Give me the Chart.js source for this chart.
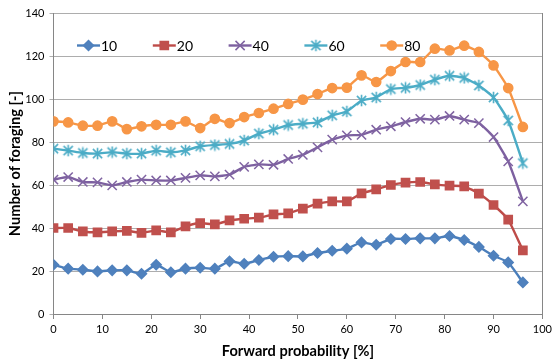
<!DOCTYPE html>
<html>
<head>
<meta charset="utf-8">
<script src="https://cdn.jsdelivr.net/npm/chart.js@4/dist/chart.umd.min.js"></script>
<style>
  html, body { margin: 0; padding: 0; background: #ffffff; }
  #wrap { width: 556px; height: 360px; }
</style>
</head>
<body>
<div id="wrap"><canvas id="c" width="556" height="360"></canvas></div>
<script>
// Forward probability (%) at which each run was measured
const forwardProb = [0, 3, 6, 9, 12, 15, 18, 21, 24, 27, 30, 33, 36, 39, 42, 45, 48,
                     51, 54, 57, 60, 63, 66, 69, 72, 75, 78, 81, 84, 87, 90, 93, 96];

const seriesNames = ['10', '20', '40', '60', '80'];

const foraging10 = [22.9, 21.1, 20.6, 19.8, 20.3, 20.3, 18.7, 22.9, 19.4, 21.1, 21.5, 21.1, 24.5, 23.4, 25.1, 26.6, 26.9,
                    26.8, 28.4, 29.4, 30.4, 33.3, 32.2, 34.9, 34.9, 35.2, 35.2, 36.3, 34.4, 31.2, 27.1, 24.0, 14.7];
const foraging20 = [40.0, 40.0, 38.4, 38.0, 38.4, 38.7, 37.7, 38.9, 38.0, 40.8, 42.3, 41.7, 43.5, 44.3, 44.8, 46.3, 46.8,
                    49.0, 51.3, 52.4, 52.4, 56.1, 58.0, 60.0, 61.1, 61.4, 60.3, 59.7, 59.4, 56.0, 50.7, 43.9, 29.6];
const foraging40 = [62.5, 63.7, 61.4, 61.2, 59.8, 61.4, 62.5, 62.1, 62.1, 63.3, 64.5, 64.0, 64.8, 68.4, 69.6, 69.4, 72.1,
                    74.0, 77.5, 81.1, 83.1, 83.3, 85.7, 87.3, 89.3, 90.8, 90.4, 92.1, 90.4, 88.8, 82.3, 71.0, 52.4];
const foraging60 = [76.9, 76.0, 74.9, 74.6, 75.3, 74.6, 74.6, 76.0, 75.2, 76.1, 78.0, 78.6, 79.1, 80.7, 83.9, 85.7, 87.9,
                    88.5, 89.1, 92.4, 94.2, 99.3, 100.7, 104.6, 105.2, 106.5, 109.0, 110.8, 109.8, 106.3, 100.7, 90.0, 70.2];
const foraging80 = [89.6, 89.1, 87.6, 87.6, 89.6, 86.0, 87.3, 88.0, 88.0, 89.6, 86.5, 90.8, 88.8, 91.6, 93.5, 95.5, 97.7,
                    99.7, 102.3, 105.1, 105.3, 111.0, 107.9, 113.0, 117.2, 117.2, 123.4, 122.6, 124.8, 121.9, 115.6, 105.1, 87.0];

const yTicks = [0, 20, 40, 60, 80, 100, 120, 140];
const xTicks = [0, 10, 20, 30, 40, 50, 60, 70, 80, 90, 100];

// Asterisk marker: an X with a vertical stroke
function asteriskMarker(color) {
  const s = 13, c = document.createElement('canvas');
  c.width = s; c.height = s;
  const g = c.getContext('2d');
  g.strokeStyle = color; g.lineWidth = 1.6; g.lineCap = 'butt';
  const m = s / 2, r = 4.6;
  g.beginPath();
  g.moveTo(m - r, m - r); g.lineTo(m + r, m + r);
  g.moveTo(m + r, m - r); g.lineTo(m - r, m + r);
  g.moveTo(m, m - 5.8); g.lineTo(m, m + 5.8);
  g.stroke();
  return c;
}

const styles = [
  { line: '#4A7EBB', fill: '#4F81BD', point: 'rectRot', radius: 5 },
  { line: '#BE4B48', fill: '#C0504D', point: 'rect', radius: 5.8 },
  { line: '#7D60A0', fill: '#8064A2', point: 'crossRot', radius: 6.5 },
  { line: '#4BACC6', fill: '#4BACC6', point: asteriskMarker('#4BACC6'), radius: 6 },
  { line: '#F79646', fill: '#F79646', point: 'circle', radius: 4.6 }
];

const seriesValues = [foraging10, foraging20, foraging40, foraging60, foraging80];

const datasets = seriesValues.map((vals, i) => ({
  label: seriesNames[i],
  data: vals.map((v, k) => ({ x: forwardProb[k], y: v })),
  borderColor: styles[i].line,
  backgroundColor: styles[i].fill,
  pointBorderColor: styles[i].fill,
  pointBackgroundColor: styles[i].fill,
  pointStyle: styles[i].point,
  pointRadius: styles[i].radius,
  pointBorderWidth: 1.5,
  borderWidth: 2.4,
  tension: 0.15,
  fill: false
}));

// Legend row drawn inside the plot area, plus the right-hand frame line
const innerLegend = {
  id: 'innerLegend',
  afterDraw(chart) {
    const ctx = chart.ctx, area = chart.chartArea;
    ctx.save();
    ctx.strokeStyle = '#868686';
    ctx.lineWidth = 1;
    ctx.beginPath();
    ctx.moveTo(Math.round(area.right) + 0.5, area.top);
    ctx.lineTo(Math.round(area.right) + 0.5, area.bottom);
    ctx.stroke();

    const y = 45.5;
    chart.data.datasets.forEach((ds, i) => {
      const x0 = area.left + 23.5 + i * 75.8;
      ctx.strokeStyle = ds.borderColor;
      ctx.lineWidth = 2.4;
      ctx.beginPath();
      ctx.moveTo(x0, y); ctx.lineTo(x0 + 23, y);
      ctx.stroke();
      ctx.fillStyle = ds.pointBackgroundColor;
      ctx.strokeStyle = ds.pointBorderColor;
      ctx.lineWidth = 1.5;
      Chart.helpers.drawPoint(ctx, { pointStyle: ds.pointStyle, radius: ds.pointRadius, rotation: 0, borderWidth: 1.5 }, x0 + 11.5, y);
      ctx.fillStyle = '#000000';
      ctx.font = '14px Lato';
      ctx.textBaseline = 'middle';
      ctx.textAlign = 'left';
      ctx.fillText(ds.label, x0 + 24, y + 0.5);
    });
    ctx.restore();
  }
};

new Chart(document.getElementById('c'), {
  type: 'line',
  data: { datasets },
  plugins: [innerLegend],
  options: {
    responsive: false,
    animation: false,
    layout: { padding: { left: 0, right: 10, top: 13, bottom: 0 } },
    plugins: { legend: { display: false }, tooltip: { enabled: false } },
    scales: {
      x: {
        type: 'linear',
        min: 0, max: 100,
        afterFit(s) { s.height = 46; },
        afterBuildTicks(s) { s.ticks = xTicks.map(v => ({ value: v })); },
        grid: { display: true, drawOnChartArea: false, drawTicks: true, tickLength: 5, color: '#868686' },
        border: { display: true, color: '#868686', width: 1 },
        ticks: { font: { family: 'Lato', size: 11 }, color: '#000000', padding: 4, maxRotation: 0 },
        title: {
          display: true, text: 'Forward probability [%]',
          font: { family: 'Lato', size: 14.6, weight: 'bold' }, color: '#000000',
          padding: { top: 0, bottom: 0 }
        }
      },
      y: {
        min: 0, max: 140,
        afterFit(s) { s.width = 53.5; },
        afterBuildTicks(s) { s.ticks = yTicks.map(v => ({ value: v })); },
        grid: { color: '#adadad', lineWidth: 1, tickLength: 4, drawTicks: true },
        border: { display: true, color: '#868686', width: 1 },
        ticks: { font: { family: 'Lato', size: 11 }, color: '#000000', padding: 5 },
        title: {
          display: true, text: 'Number of foraging [-]',
          font: { family: 'Lato', size: 14.6, weight: 'bold' }, color: '#000000',
          padding: { top: 7, bottom: 0 }
        }
      }
    }
  }
});
</script>
</body>
</html>
